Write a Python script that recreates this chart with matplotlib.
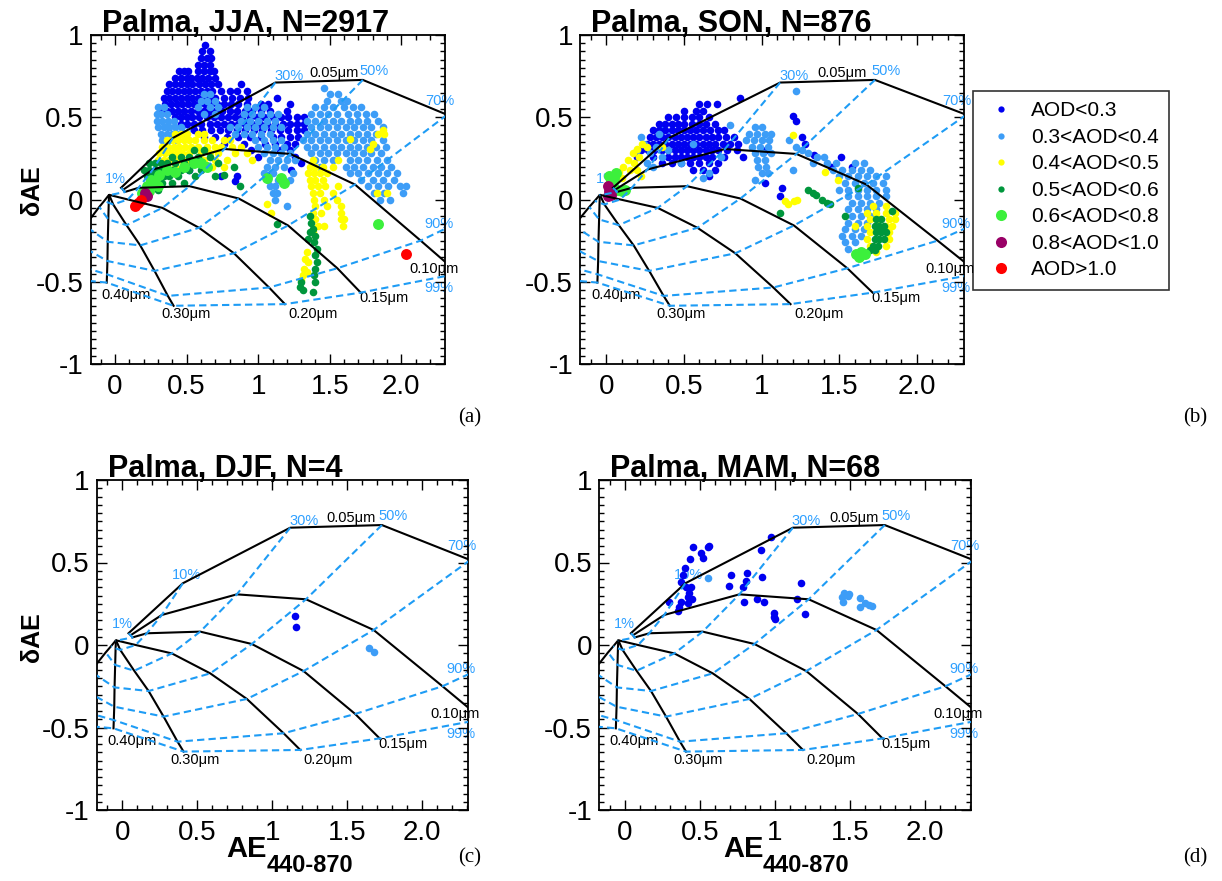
"""Gobbi-type AE / dAE classification plots for Palma, one panel per season."""

import matplotlib

matplotlib.use("Agg")
import matplotlib.pyplot as plt
from matplotlib.lines import Line2D
from matplotlib.ticker import MultipleLocator

plt.rcParams["font.family"] = ["Liberation Sans", "DejaVu Sans"]

W, H = 1222, 881

# ---- Gobbi grid: rows = fine-mode radius, cols = fine-mode fraction ----
RADII = ["0.05", "0.10", "0.15", "0.20", "0.30", "0.40", "0.50"]
FRACTIONS = ["1%", "10%", "30%", "50%", "70%", "90%", "99%"]
GRID_AE = [
    [0.042, 0.404, 1.120, 1.731, 2.320, 2.800, 2.950],
    [0.056, 0.264, 0.764, 1.225, 1.676, 2.135, 2.400],
    [0.069, 0.164, 0.520, 0.864, 1.209, 1.553, 1.716],
    [-0.035, 0.090, 0.331, 0.587, 0.831, 1.076, 1.187],
    [-0.040, -0.013, 0.080, 0.176, 0.276, 0.369, 0.409],
    [-0.042, -0.044, -0.047, -0.051, -0.053, -0.056, -0.058],
    [-0.045, -0.075, -0.110, -0.210, -0.220, -0.230, -0.240],
]
GRID_DAE = [
    [0.071, 0.374, 0.711, 0.727, 0.515, 0.030, -0.200],
    [0.059, 0.182, 0.307, 0.277, 0.091, -0.250, -0.450],
    [0.046, 0.071, 0.081, 0.006, -0.158, -0.418, -0.566],
    [0.027, 0.000, -0.051, -0.172, -0.327, -0.535, -0.636],
    [0.026, -0.030, -0.156, -0.279, -0.434, -0.586, -0.646],
    [0.026, -0.020, -0.121, -0.257, -0.374, -0.455, -0.505],
    [0.025, -0.008, -0.045, -0.160, -0.290, -0.410, -0.490],
]
# label anchors (left, baseline) in data units
FRAC_LABEL_XY = [(-0.069, 0.101), (0.331, 0.398), (1.113, 0.727), (1.709, 0.758),
                 (2.164, 0.576), (2.160, -0.172), (2.160, -0.562)]
RADIUS_LABELS = ["0.05\u03bcm", "0.10\u03bcm", "0.15\u03bcm", "0.20\u03bcm", "0.30\u03bcm", "0.40\u03bcm"]
RADIUS_LABEL_XY = [(1.360, 0.747), (2.053, -0.444), (1.709, -0.626), (1.209, -0.721),
                   (0.324, -0.721), (-0.098, -0.606)]

# ---- AOD classes ----
AOD_LABELS = ["AOD<0.3", "0.3<AOD<0.4", "0.4<AOD<0.5", "0.5<AOD<0.6",
              "0.6<AOD<0.8", "0.8<AOD<1.0", "AOD>1.0"]
AOD_COLORS = ["#0000f0", "#3d9df7", "#ffff00", "#00963c", "#3cf03c", "#990066", "#ff0000"]
BIG = [False, False, False, False, True, True, True]

# Points, stored as rows: (dAE, [AE, AE, ...])
# ---- JJA ----
JJA_AOD1 = [
    (0.94, [0.63]), (0.90, [0.61, 0.66]), (0.86, [0.60, 0.64, 0.67]),
    (0.82, [0.58, 0.62, 0.66]),
    (0.78, [0.45, 0.48, 0.51, 0.58, 0.62, 0.66, 0.69]),
    (0.74, [0.42, 0.46, 0.50, 0.53, 0.57, 0.61, 0.65, 0.70]),
    (0.70, [0.38, 0.42, 0.46, 0.50, 0.54, 0.59, 0.63, 0.67, 0.72, 0.88]),
    (0.66, [0.36, 0.40, 0.44, 0.48, 0.52, 0.56, 0.60, 0.64, 0.68, 0.74, 0.80, 0.85, 0.92]),
    (0.62, [0.34, 0.38, 0.42, 0.46, 0.50, 0.54, 0.58, 0.62, 0.66, 0.70, 0.76, 0.82, 0.87,
            0.93, 1.13]),
    (0.58, [0.35, 0.39, 0.43, 0.47, 0.51, 0.55, 0.59, 0.63, 0.67, 0.71, 0.76, 0.81, 0.86,
            0.92, 1.02, 1.07, 1.22]),
    (0.54, [0.32, 0.36, 0.40, 0.44, 0.48, 0.53, 0.58, 0.62, 0.66, 0.70, 0.75, 0.80, 0.85,
            0.91, 0.96, 1.02, 1.08, 1.20]),
    (0.50, [0.42, 0.46, 0.50, 0.54, 0.59, 0.64, 0.69, 0.74, 0.79, 0.84, 0.89, 0.94, 0.99,
            1.04, 1.10, 1.16, 1.21, 1.27, 1.32]),
    (0.46, [0.46, 0.50, 0.55, 0.60, 0.66, 0.71, 0.76, 0.81, 0.86, 0.91, 0.96, 1.01, 1.06,
            1.12, 1.17, 1.22, 1.27, 1.32]),
    (0.42, [0.55, 0.61, 0.67, 0.73, 0.79, 0.85, 0.91, 0.97, 1.03, 1.09, 1.15, 1.21, 1.27,
            1.32]),
    (0.38, [0.62, 0.70, 0.78, 0.86, 0.94, 1.02, 1.10, 1.16, 1.22, 1.28]),
    (0.34, [0.76, 0.90, 1.05, 1.12, 1.20, 1.26]),
    (0.30, [0.95, 1.15, 1.22]), (0.26, [1.00, 1.26]), (0.22, [0.62, 1.30]),
    (0.18, [0.52, 1.23]), (0.14, [0.74, 0.85, 1.07]), (0.11, [0.84]),
]
JJA_AOD2 = [
    (0.68, [1.46]), (0.64, [0.62, 0.66, 1.50, 1.56]), (0.60, [0.60, 0.64, 0.70, 1.48, 1.58, 1.62]),
    (0.56, [0.30, 0.34, 0.58, 0.66, 0.72, 0.92, 0.98, 1.04, 1.40, 1.46, 1.52, 1.60, 1.66, 1.72]),
    (0.52, [0.29, 0.32, 0.36, 0.62, 0.70, 0.90, 0.96, 1.02, 1.08, 1.14, 1.37, 1.43, 1.49,
            1.55, 1.63, 1.69, 1.75, 1.81]),
    (0.48, [0.29, 0.33, 0.37, 0.41, 0.88, 0.94, 1.00, 1.06, 1.12, 1.34, 1.40, 1.46, 1.52,
            1.58, 1.64, 1.70, 1.76, 1.84]),
    (0.44, [0.30, 0.34, 0.38, 0.42, 0.46, 0.80, 0.86, 0.92, 0.98, 1.04, 1.10, 1.16, 1.37,
            1.43, 1.49, 1.55, 1.61, 1.67, 1.73, 1.79, 1.87]),
    (0.40, [0.32, 0.36, 0.40, 0.44, 0.48, 0.84, 0.90, 0.96, 1.02, 1.08, 1.34, 1.40, 1.46,
            1.52, 1.58, 1.64, 1.70, 1.76, 1.82]),
    (0.36, [0.33, 0.38, 0.43, 0.98, 1.04, 1.10, 1.16, 1.31, 1.37, 1.43, 1.49, 1.55, 1.61,
            1.67, 1.73, 1.79, 1.87]),
    (0.32, [1.00, 1.06, 1.12, 1.18, 1.34, 1.40, 1.46, 1.52, 1.58, 1.64, 1.70, 1.76, 1.82, 1.89]),
    (0.28, [1.04, 1.10, 1.16, 1.22, 1.37, 1.43, 1.49, 1.55, 1.61, 1.67, 1.73, 1.79, 1.86]),
    (0.24, [1.08, 1.14, 1.20, 1.26, 1.40, 1.46, 1.52, 1.64, 1.70, 1.76, 1.83, 1.90]),
    (0.20, [1.06, 1.12, 1.18, 1.43, 1.61, 1.67, 1.73, 1.80, 1.86, 1.93]),
    (0.16, [1.04, 1.10, 1.24, 1.64, 1.70, 1.77, 1.84, 1.90, 1.97]),
    (0.12, [1.07, 1.14, 1.22, 1.72, 1.80, 1.87, 1.95]),
    (0.08, [1.08, 1.12, 1.77, 1.84, 1.91, 1.99, 2.03]),
    (0.04, [1.10, 1.13, 1.81, 1.88, 2.01]),
    (0.00, [1.12, 1.85, 1.92]), (-0.04, [1.20]),
]
JJA_AOD3 = [
    (0.42, [1.87]), (0.40, [0.42, 0.46, 0.50, 0.58, 0.62, 1.84, 1.88]),
    (0.37, [1.64]), (0.34, [1.80]), (0.31, [1.78]),
    (0.36, [0.36, 0.40, 0.44, 0.48, 0.52, 0.56, 0.62, 0.68, 0.76, 0.80]),
    (0.32, [0.33, 0.37, 0.41, 0.45, 0.49, 0.53, 0.58, 0.64, 0.70, 0.74, 0.82, 0.88]),
    (0.28, [0.31, 0.35, 0.39, 0.43, 0.47, 0.52, 0.60, 0.66, 0.72, 0.84, 0.92]),
    (0.24, [0.30, 0.34, 0.38, 0.44, 0.50, 0.62, 0.70, 0.78, 0.96, 1.38, 1.56]),
    (0.20, [0.36, 0.42, 0.68, 0.76, 1.36, 1.40, 1.45, 1.52]),
    (0.16, [0.40, 1.35, 1.39, 1.43, 1.48]),
    (0.12, [1.36, 1.40, 1.45]),
    (0.08, [1.37, 1.42, 1.47, 1.56]),
    (0.04, [1.38, 1.43, 1.52, 1.83, 1.90]),
    (0.00, [1.39, 1.46, 1.55]),
    (-0.03, [1.06]), (-0.04, [1.40, 1.48, 1.58]),
    (-0.08, [1.09, 1.38, 1.44, 1.58]),
    (-0.12, [1.40, 1.58, 1.60]), (-0.16, [1.42, 1.46, 1.59]), (-0.20, [1.38]),
    (-0.32, [1.34]), (-0.36, [1.33]), (-0.38, [1.35]), (-0.42, [1.32]), (-0.44, [1.34]),
    (-0.46, [1.31]), (-0.49, [1.30]),
]
JJA_AOD4 = [
    (0.30, [0.55, 0.62]),
    (0.26, [0.40, 0.46, 0.52, 0.58, 0.66]),
    (0.22, [0.24, 0.28, 0.32, 0.36, 0.42, 0.48, 0.54, 0.72]),
    (0.20, [0.83]),
    (0.18, [0.20, 0.24, 0.28, 0.32, 0.36, 0.40, 0.46, 0.52, 0.60]),
    (0.15, [0.76]),
    (0.14, [0.22, 0.26, 0.30, 0.34, 0.38, 0.44, 0.56, 0.70]),
    (0.10, [0.24, 0.28, 0.33, 0.40, 0.48]),
    (0.08, [0.87]), (0.06, [0.30]),
    (-0.10, [1.36]), (-0.14, [1.37]), (-0.15, [1.13]), (-0.18, [1.38]),
    (-0.20, [1.36]), (-0.22, [1.40]), (-0.24, [1.35]), (-0.26, [1.39]),
    (-0.30, [1.41]), (-0.34, [1.40]), (-0.38, [1.41]), (-0.42, [1.40]), (-0.46, [1.39]),
    (-0.50, [1.30, 1.40]), (-0.53, [1.29]), (-0.55, [1.31]), (-0.56, [1.38]),
]
JJA_AOD5 = [
    (0.22, [0.55, 0.60]), (0.20, [0.48, 0.64]), (0.18, [0.36]), (0.17, [0.42]),
    (0.15, [0.31]), (0.13, [1.06, 1.16]), (0.12, [0.25]), (0.10, [0.28, 1.18]),
    (0.08, [0.22, 0.30]), (0.05, [0.24]), (0.04, [0.19]), (-0.15, [1.84]),
]
JJA_AOD6 = [(0.04, [0.21]), (0.02, [0.22])]
JJA_AOD7 = [(0.00, [0.18]), (-0.02, [0.16]), (-0.04, [0.14]), (-0.33, [2.03])]

# ---- SON ----
SON_AOD1 = [
    (0.62, [0.86]), (0.58, [0.60, 0.65, 0.71]), (0.54, [0.50, 0.58, 0.62]),
    (0.51, [1.20]), (0.48, [1.22]),
    (0.50, [0.40, 0.45, 0.50, 0.55, 0.60, 0.66]),
    (0.46, [0.34, 0.38, 0.42, 0.46, 0.50, 0.55, 0.60, 0.64, 0.70]),
    (0.42, [0.30, 0.34, 0.38, 0.42, 0.46, 0.50, 0.54, 0.58, 0.62, 0.67, 0.72, 0.76]),
    (0.38, [0.28, 0.32, 0.36, 0.40, 0.44, 0.48, 0.52, 0.56, 0.60, 0.64, 0.68, 0.72, 0.77,
            0.82, 1.26]),
    (0.34, [0.26, 0.30, 0.34, 0.38, 0.42, 0.46, 0.50, 0.54, 0.58, 0.62, 0.66, 0.70, 0.75,
            0.80, 0.85, 1.28]),
    (0.30, [0.22, 0.27, 0.31, 0.36, 0.40, 0.44, 0.48, 0.52, 0.56, 0.60, 0.64, 0.68, 0.72,
            0.78, 0.84, 1.03]),
    (0.27, [1.34]), (0.26, [1.51]),
    (0.26, [0.20, 0.30, 0.40, 0.44, 0.48, 0.52, 0.56, 0.60, 0.64, 0.68, 0.76, 0.88]),
    (0.22, [0.36, 0.42, 0.48, 0.54, 0.60, 0.66, 0.72]),
    (0.20, [1.45, 1.58]), (0.18, [0.56, 0.62, 0.70]), (0.14, [0.66]),
    (0.10, [1.02]), (0.07, [1.13]), (0.02, [1.12]),
]
SON_AOD2 = [
    (0.66, [1.22]), (0.45, [0.80]),
    (0.44, [0.96, 1.00]), (0.40, [0.34, 0.92, 0.97, 1.02, 1.06]),
    (0.38, [0.22]), (0.36, [0.90, 0.95, 1.00, 1.05, 1.18]),
    (0.34, [0.24, 0.56]), (0.32, [0.32, 0.94, 0.99, 1.04, 1.22]),
    (0.30, [0.20, 0.40, 1.26]), (0.28, [0.28, 0.96, 1.01, 1.06, 1.30]),
    (0.26, [0.36, 0.74, 1.36, 1.40]), (0.24, [0.97, 1.02]),
    (0.22, [0.26, 0.48, 1.33, 1.42, 1.48, 1.60, 1.66]),
    (0.20, [0.30, 0.98, 1.03]),
    (0.18, [1.20, 1.46, 1.52, 1.58, 1.64, 1.70]),
    (0.16, [0.66, 1.00, 1.04]),
    (0.14, [1.50, 1.56, 1.62, 1.68, 1.74, 1.80]),
    (0.13, [0.62]), (0.12, [0.96]),
    (0.10, [1.54, 1.60, 1.66, 1.72, 1.78]),
    (0.06, [1.50, 1.56, 1.62, 1.68, 1.74, 1.80]),
    (0.02, [1.56, 1.62, 1.68, 1.74, 1.80]),
    (-0.02, [1.58, 1.64, 1.70, 1.76]),
    (-0.06, [1.56, 1.62, 1.68, 1.74]),
    (-0.10, [1.58, 1.64, 1.70]),
    (-0.14, [1.56, 1.62, 1.68]),
    (-0.18, [1.54, 1.60, 1.66]),
    (-0.22, [1.52, 1.58, 1.64]),
    (-0.26, [1.54, 1.60]), (-0.30, [1.56]),
]
SON_AOD3 = [
    (0.39, [1.20]), (0.34, [0.23]), (0.32, [0.26, 0.36]), (0.31, [0.20]),
    (0.28, [0.17]), (0.26, [0.21]), (0.24, [0.14]), (0.22, [0.18]), (0.20, [0.11]),
    (0.18, [0.15, 0.20]), (0.17, [0.08, 1.41]), (0.14, [0.05, 0.22]), (0.13, [0.10]),
    (0.12, [1.49]), (0.00, [1.23]), (-0.01, [1.15, 1.21]), (-0.03, [1.17]),
    (-0.04, [1.72, 1.80]), (-0.08, [1.68, 1.74, 1.80, 1.86]),
    (-0.12, [1.70, 1.76, 1.82, 1.86]), (-0.16, [1.60, 1.68, 1.74, 1.80, 1.84]),
    (-0.20, [1.70, 1.82]), (-0.24, [1.68, 1.82]), (-0.28, [1.70, 1.80]), (-0.32, [1.74]),
]
SON_AOD4 = [
    (0.07, [1.62]), (0.06, [1.30]), (0.04, [1.33]), (0.03, [1.35]), (0.00, [1.39]),
    (-0.02, [1.42]), (-0.03, [1.44]), (-0.07, [1.84]), (-0.08, [1.12]), (-0.10, [1.54]),
    (-0.12, [1.74, 1.77]), (-0.16, [1.73, 1.76, 1.79]), (-0.20, [1.74, 1.77, 1.80]),
    (-0.24, [1.73, 1.76, 1.79]), (-0.28, [1.72, 1.75]), (-0.31, [1.70, 1.73]),
]
SON_AOD5 = [
    (0.16, [0.06]), (0.14, [0.02]), (0.13, [0.05]), (0.11, [0.03]), (0.08, [0.04]),
    (0.06, [0.07, 0.12]), (0.05, [0.10]),
    (-0.32, [1.64]), (-0.33, [1.61, 1.67]), (-0.35, [1.63]),
]
SON_AOD6 = [(0.08, [0.01]), (0.05, [0.02]), (0.03, [0.03]), (0.02, [0.01])]
SON_AOD7 = []

# ---- DJF ----
DJF_AOD1 = [(0.178, [1.153]), (0.107, [1.160])]
DJF_AOD2 = [(-0.016, [1.647]), (-0.044, [1.680])]

# ---- MAM ----
MAM_AOD1 = [
    (0.657, [0.973]), (0.600, [0.564]), (0.596, [0.453, 0.553]), (0.576, [0.906]),
    (0.556, [0.508]), (0.525, [0.519]), (0.519, [0.438]), (0.465, [0.405]),
    (0.434, [0.818]), (0.424, [0.387, 0.707]), (0.414, [0.917]), (0.390, [0.811]),
    (0.384, [0.376]), (0.378, [1.172]), (0.360, [0.692]), (0.354, [0.409, 0.442, 0.785]),
    (0.313, [0.431]), (0.289, [0.420]), (0.277, [0.449, 0.884, 1.149]),
    (0.263, [0.796, 0.928]), (0.259, [0.376, 0.298]), (0.253, [0.420]), (0.232, [0.365]),
    (0.208, [0.354]), (0.196, [0.995]), (0.188, [1.200]), (0.172, [0.995]), (0.156, [1.001]),
]
MAM_AOD2 = [
    (0.404, [0.557]), (0.317, [1.459]), (0.309, [1.492]), (0.297, [1.488]), (0.293, [1.448]),
    (0.283, [1.569]), (0.263, [1.452]), (0.253, [1.598]), (0.242, [1.625]), (0.238, [1.647]),
    (0.232, [1.569]),
]

PANELS = [
    # title, axes box in pixels (l, t, r, b), per-class rows, letter, letter centre (px)
    ("Palma, JJA, N=2917", (90.7, 35, 445, 364),
     [JJA_AOD1, JJA_AOD2, JJA_AOD3, JJA_AOD4, JJA_AOD5, JJA_AOD6, JJA_AOD7], "(a)", (470, 418)),
    ("Palma, SON, N=876", (580, 35, 964, 364),
     [SON_AOD1, SON_AOD2, SON_AOD3, SON_AOD4, SON_AOD5, SON_AOD6, SON_AOD7], "(b)", (1195, 418)),
    ("Palma, DJF, N=4", (96.7, 480, 468, 810),
     [DJF_AOD1, DJF_AOD2, [], [], [], [], []], "(c)", (470, 858)),
    ("Palma, MAM, N=68", (599, 480, 971, 810),
     [MAM_AOD1, MAM_AOD2, [], [], [], [], []], "(d)", (1195, 858)),
]

GRID_BLUE = "#1e9cf5"


def px_box(l, t, r, b):
    return [l / W, 1 - b / H, (r - l) / W, (b - t) / H]


def expand(rows):
    xs, ys = [], []
    for y, row in rows:
        for x in row:
            xs.append(x)
            ys.append(y)
    return xs, ys


def draw_grid(ax):
    for i in range(len(RADII)):
        ax.plot(GRID_AE[i], GRID_DAE[i], color="black", lw=1.5, zorder=3)
    for j in range(len(FRACTIONS)):
        xs = [GRID_AE[i][j] for i in range(len(RADII))]
        ys = [GRID_DAE[i][j] for i in range(len(RADII))]
        ax.plot(xs, ys, color=GRID_BLUE, lw=1.5, ls=(0, (3.5, 2.0)), zorder=3)
    for lab, (x, y) in zip(FRACTIONS, FRAC_LABEL_XY):
        ax.text(x, y, lab, color="#2fa0ff", fontsize=10.5, va="baseline", zorder=1,
                clip_on=False)
    for lab, (x, y) in zip(RADIUS_LABELS, RADIUS_LABEL_XY):
        ax.text(x, y, lab, color="black", fontsize=10.5, va="baseline", zorder=1,
                clip_on=False)


fig = plt.figure(figsize=(W / 100, H / 100), dpi=100)

for title, box, classes, letter, letter_xy in PANELS:
    ax = fig.add_axes(px_box(*box))
    ax.set_xlim(-0.17, 2.305)
    ax.set_ylim(-1, 1)
    draw_grid(ax)
    for rows, color, big in zip(classes, AOD_COLORS, BIG):
        if not rows:
            continue
        xs, ys = expand(rows)
        ax.scatter(xs, ys, s=62 if big else 30, color=color, linewidths=0, zorder=2)
    ax.set_xticks([0, 0.5, 1, 1.5, 2])
    ax.set_xticklabels(["0", "0.5", "1", "1.5", "2.0"])
    ax.set_yticks([-1, -0.5, 0, 0.5, 1])
    ax.set_yticklabels(["-1", "-0.5", "0", "0.5", "1"])
    ax.xaxis.set_minor_locator(MultipleLocator(0.1))
    ax.yaxis.set_minor_locator(MultipleLocator(0.05))
    ax.tick_params(which="both", direction="in", top=True, right=True, width=1.0,
                   labelsize=20)
    ax.tick_params(which="major", length=7)
    ax.tick_params(which="minor", length=3.5)
    ax.tick_params(axis="x", pad=7)
    ax.tick_params(axis="y", pad=5)
    for sp in ax.spines.values():
        sp.set_linewidth(1.3)
    ax.text(11 / (box[2] - box[0]), 1 + 3 / (box[3] - box[1]), title, transform=ax.transAxes,
            fontsize=22, fontweight="bold", va="baseline")
    fig.text(letter_xy[0] / W, 1 - letter_xy[1] / H, letter, fontsize=15,
             family=["Liberation Serif", "DejaVu Serif"], ha="center", va="center")

# y labels (left column)
for yc in (190, 637):
    fig.text(32 / W, 1 - yc / H, "\u03b4AE", rotation=90, fontsize=18, fontweight="bold",
             ha="center", va="center")

# x labels (bottom row)
for xl in (226.7, 723):
    fig.text(xl / W, 1 - 856.7 / H, "AE", fontsize=21, fontweight="bold", va="baseline")
    fig.text((xl + 40) / W, 1 - 871.7 / H, "440-870", fontsize=17, fontweight="bold",
             va="baseline")

handles = [Line2D([], [], marker="o", linestyle="", color=c, markeredgewidth=0,
                  markersize=8 if big else 4.5)
           for c, big in zip(AOD_COLORS, BIG)]
leg = fig.legend(handles, AOD_LABELS, loc="upper left", bbox_to_anchor=(973 / W, 1 - 91 / H),
                 bbox_transform=fig.transFigure, frameon=True, fancybox=False,
                 edgecolor="black", fontsize=15, borderaxespad=0, handlelength=1.64,
                 handletextpad=0.65, labelspacing=0.36, borderpad=0.5)
leg.get_frame().set_linewidth(1.2)

fig.savefig("out.png", dpi=100)
